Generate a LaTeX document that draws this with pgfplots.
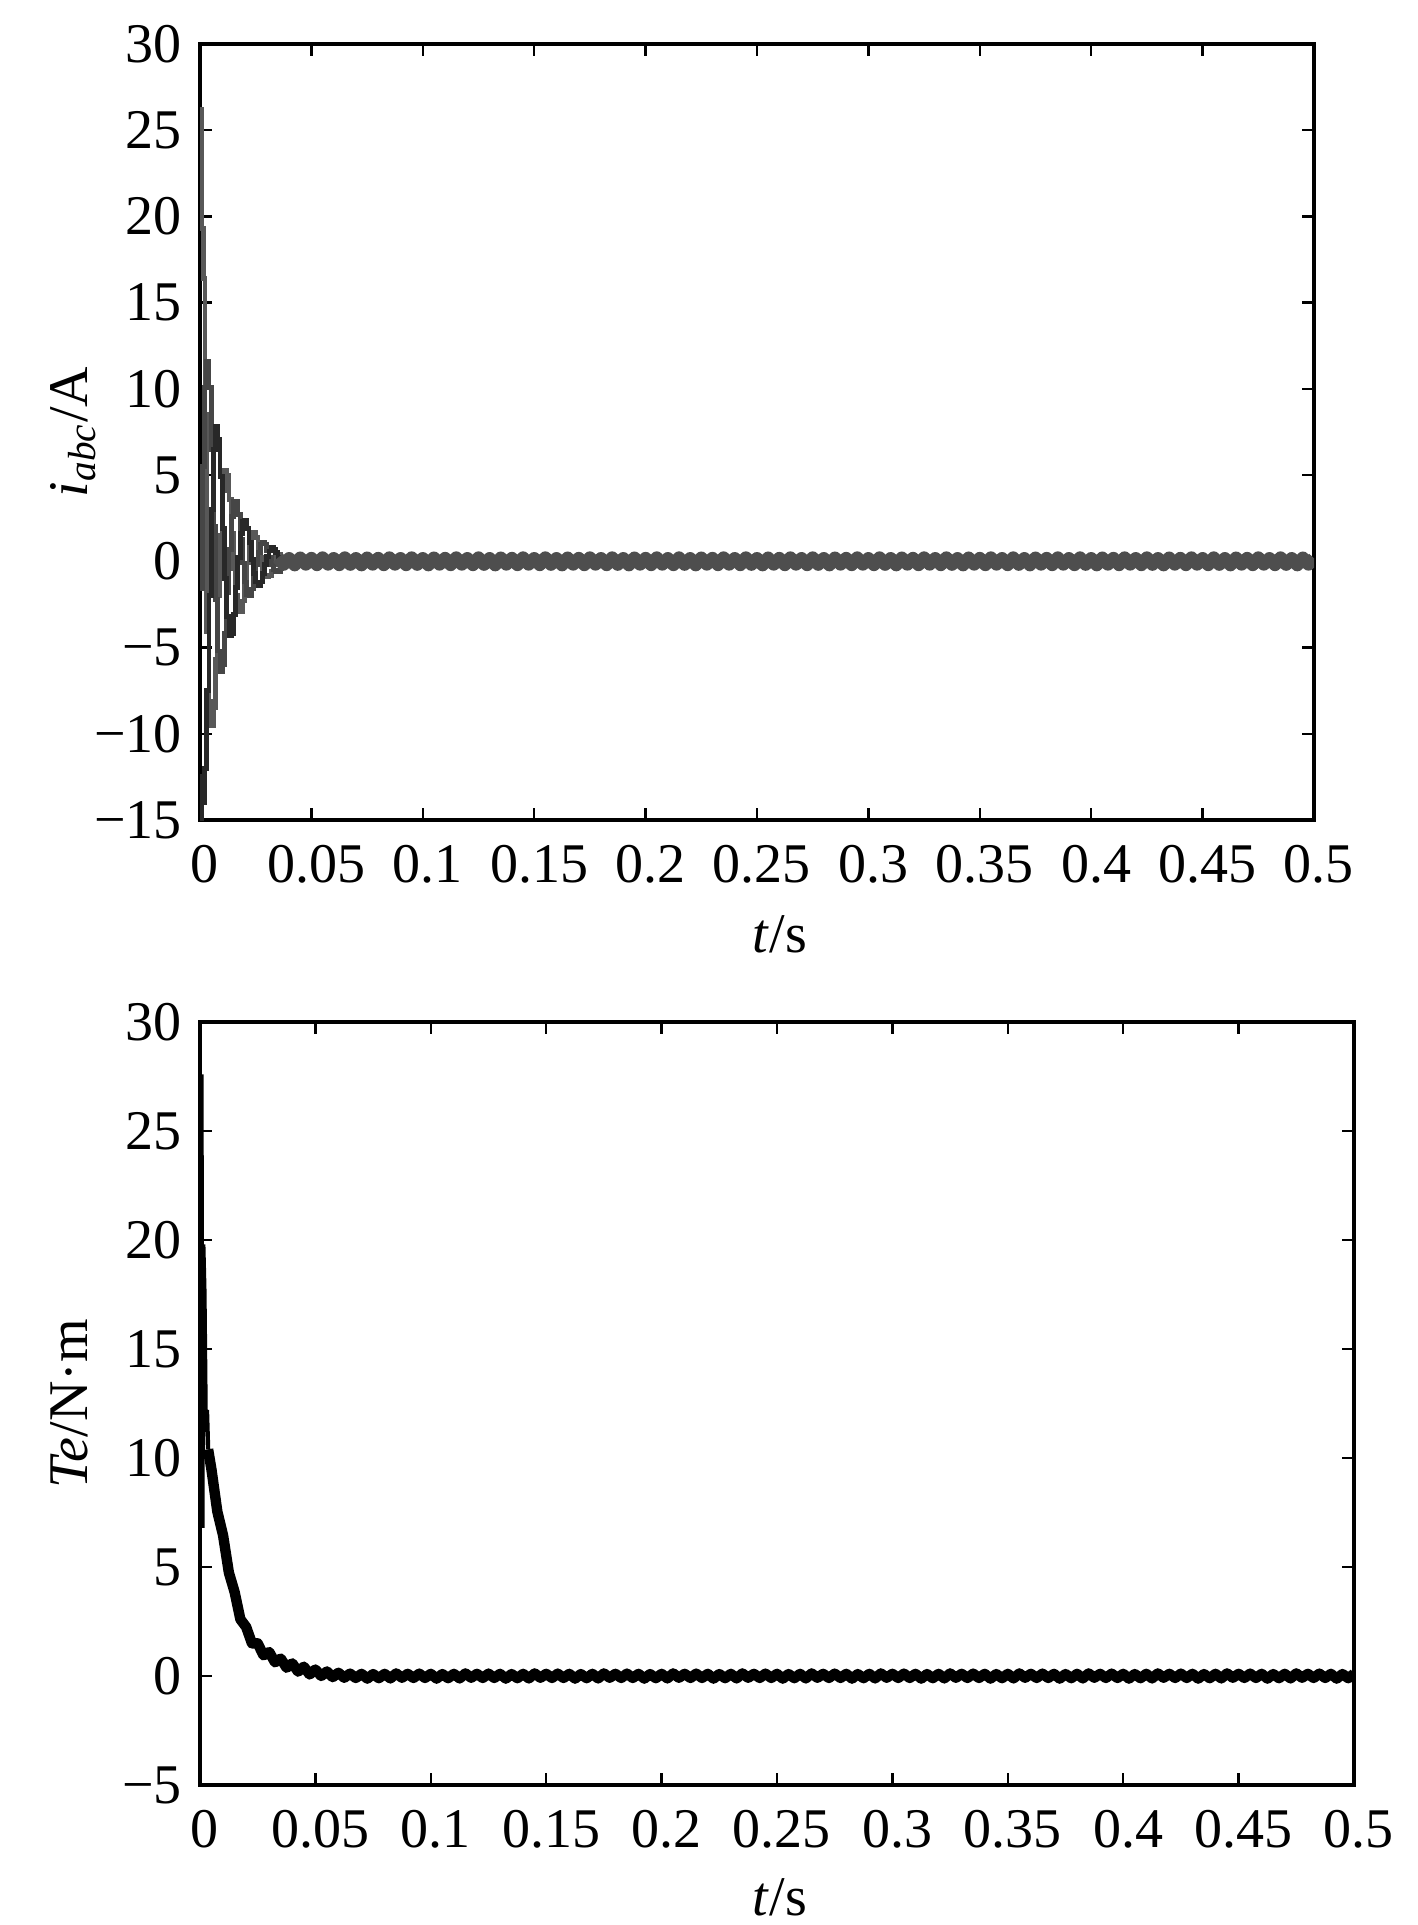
\documentclass[border=0pt]{standalone}
\usepackage{fontspec}
\setmainfont{Liberation Serif}
\usepackage{pgfplots}
\pgfplotsset{compat=1.18}
\definecolor{phA}{RGB}{40,40,40}
\definecolor{phB}{RGB}{88,88,88}
\definecolor{phC}{RGB}{70,70,70}
\definecolor{band}{RGB}{78,78,78}

\pgfplotsset{
  simfig/.style={
    scale only axis,
    anchor=south west,
    xmin=0, xmax=0.5,
    xtick={0,0.05,0.1,0.15,0.2,0.25,0.3,0.35,0.4,0.45,0.5},
    xticklabels={0,0.05,0.1,0.15,0.2,0.25,0.3,0.35,0.4,0.45,0.5},
    tick align=inside,
    major tick length=3pt,
    axis line style={line width=0.9pt},
    every tick/.style={black, line width=0.6pt},
    tick label style={font=\fontsize{14}{16}\selectfont},
    xticklabel style={xshift=1.2pt, yshift=-2.75pt},
    yticklabel style={xshift=-1pt},
    xlabel={\textit{t}/s},
    no markers,
  }
}

\begin{document}
\begin{tikzpicture}
\useasboundingbox (0pt,0pt) rectangle (354.25pt,-481.25pt);

% phase currents
\begin{axis}[
    simfig,
    at={(50pt,-205pt)},
    width=278.5pt, height=194pt,
    ymin=-15, ymax=30,
    ytick={-15,-10,-5,0,5,10,15,20,25,30},
    yticklabels={−15,−10,−5,0,5,10,15,20,25,30},
    every axis x label/.style={at={(axis description cs:0.5206,0)}, anchor=base, yshift=-33pt, font=\fontsize{14}{16}\selectfont},
    every axis y label/.style={at={(axis description cs:-0.1014,0.5)}, rotate=90, anchor=base, font=\fontsize{14}{16}\selectfont},
    ylabel={\textit{i}\textsubscript{\textit{abc}}/A},
]
\addplot[const plot, phB, line width=1.2pt] coordinates {
 (0,19.3) (0.0004,26.2) (0.0007,19.3) (0.0017,16.4) (0.0022,8.5) (0.003,-4.1)
 (0.004,-8.1) (0.005,-9.5) (0.006,-8.5) (0.007,-5.7) (0.008,-2.0) (0.009,1.5)
 (0.010,4.1) (0.011,5.3) (0.012,5.0) (0.013,3.6) (0.014,1.6) (0.015,-0.4)
 (0.016,-2.0) (0.017,-2.9) (0.018,-2.9) (0.019,-2.3) (0.020,-1.2) (0.021,-0.1)
 (0.022,0.9) (0.023,1.5) (0.024,1.7) (0.025,1.4) (0.026,0.8) (0.027,0.2)
 (0.028,-0.4) (0.029,-0.8) (0.030,-0.9) (0.031,-0.8) (0.032,-0.6) (0.033,-0.2)
 (0.034,0.2) (0.035,0.4) (0.036,0.1)
};
\addplot[const plot, phC, line width=1.2pt] coordinates {
 (0,-1.6) (0.001,5.5) (0.002,10.1) (0.003,11.6) (0.004,10.1) (0.005,6.5)
 (0.006,2.0) (0.007,-2.2) (0.008,-5.2) (0.009,-6.4) (0.010,-6.0) (0.011,-4.2)
 (0.012,-1.8) (0.013,0.7) (0.014,2.6) (0.015,3.5) (0.016,3.5) (0.017,2.7)
 (0.018,1.3) (0.019,-0.1) (0.020,-1.2) (0.021,-1.9) (0.022,-2.0) (0.023,-1.6)
 (0.024,-1.0) (0.025,-0.2) (0.026,0.5) (0.027,1.0) (0.028,1.1) (0.029,1.0)
 (0.030,0.6) (0.031,0.2) (0.032,-0.2) (0.033,-0.5) (0.034,-0.6) (0.035,-0.6)
 (0.036,-0.3)
};
\addplot[const plot, phA, line width=1.2pt] coordinates {
 (0,-15.0) (0.0005,-12.5) (0.001,-14.0) (0.002,-12.0) (0.003,-7.5) (0.004,-2.0)
 (0.005,3.0) (0.006,6.5) (0.007,7.8) (0.008,7.1) (0.009,4.9) (0.010,1.9)
 (0.011,-1.0) (0.012,-3.2) (0.013,-4.3) (0.014,-4.2) (0.015,-3.1) (0.016,-1.5)
 (0.017,0.2) (0.018,1.6) (0.019,2.3) (0.020,2.4) (0.021,1.9) (0.022,1.1)
 (0.023,0.1) (0.024,-0.7) (0.025,-1.2) (0.026,-1.4) (0.027,-1.2) (0.028,-0.7)
 (0.029,-0.2) (0.030,0.3) (0.031,0.6) (0.032,0.8) (0.033,0.7) (0.034,0.5)
 (0.035,0.2) (0.036,-0.1)
};
% steady-state ripple band
\addplot[sharp plot, band, line width=3.2pt, line join=round] coordinates {
 (0.035,0.21)(0.0375,-0.18)(0.04,0.17)(0.0425,-0.21)(0.045,0.20)(0.0475,-0.17)
 (0.05,0.18)(0.0525,-0.20)(0.055,0.21)(0.0575,-0.17)(0.06,0.17)(0.0625,-0.20)
 (0.065,0.21)(0.0675,-0.18)(0.07,0.17)(0.0725,-0.21)(0.075,0.20)(0.0775,-0.17)
 (0.08,0.18)(0.0825,-0.20)(0.085,0.21)(0.0875,-0.17)(0.09,0.17)(0.0925,-0.20)
 (0.095,0.21)(0.0975,-0.18)(0.1,0.17)(0.1025,-0.21)(0.105,0.20)(0.1075,-0.17)
 (0.11,0.18)(0.1125,-0.20)(0.115,0.21)(0.1175,-0.17)(0.12,0.17)(0.1225,-0.20)
 (0.125,0.21)(0.1275,-0.18)(0.13,0.17)(0.1325,-0.21)(0.135,0.20)(0.1375,-0.17)
 (0.14,0.18)(0.1425,-0.20)(0.145,0.21)(0.1475,-0.17)(0.15,0.17)(0.1525,-0.20)
 (0.155,0.21)(0.1575,-0.18)(0.16,0.17)(0.1625,-0.21)(0.165,0.20)(0.1675,-0.17)
 (0.17,0.18)(0.1725,-0.20)(0.175,0.21)(0.1775,-0.17)(0.18,0.17)(0.1825,-0.20)
 (0.185,0.21)(0.1875,-0.18)(0.19,0.17)(0.1925,-0.21)(0.195,0.20)(0.1975,-0.17)
 (0.2,0.18)(0.2025,-0.20)(0.205,0.21)(0.2075,-0.17)(0.21,0.17)(0.2125,-0.20)
 (0.215,0.21)(0.2175,-0.18)(0.22,0.17)(0.2225,-0.21)(0.225,0.20)(0.2275,-0.17)
 (0.23,0.18)(0.2325,-0.20)(0.235,0.21)(0.2375,-0.17)(0.24,0.17)(0.2425,-0.20)
 (0.245,0.21)(0.2475,-0.18)(0.25,0.17)(0.2525,-0.21)(0.255,0.20)(0.2575,-0.17)
 (0.26,0.18)(0.2625,-0.20)(0.265,0.21)(0.2675,-0.17)(0.27,0.17)(0.2725,-0.20)
 (0.275,0.21)(0.2775,-0.18)(0.28,0.17)(0.2825,-0.21)(0.285,0.20)(0.2875,-0.17)
 (0.29,0.18)(0.2925,-0.20)(0.295,0.21)(0.2975,-0.17)(0.3,0.17)(0.3025,-0.20)
 (0.305,0.21)(0.3075,-0.18)(0.31,0.17)(0.3125,-0.21)(0.315,0.20)(0.3175,-0.17)
 (0.32,0.18)(0.3225,-0.20)(0.325,0.21)(0.3275,-0.17)(0.33,0.17)(0.3325,-0.20)
 (0.335,0.21)(0.3375,-0.18)(0.34,0.17)(0.3425,-0.21)(0.345,0.20)(0.3475,-0.17)
 (0.35,0.18)(0.3525,-0.20)(0.355,0.21)(0.3575,-0.17)(0.36,0.17)(0.3625,-0.20)
 (0.365,0.21)(0.3675,-0.18)(0.37,0.17)(0.3725,-0.21)(0.375,0.20)(0.3775,-0.17)
 (0.38,0.18)(0.3825,-0.20)(0.385,0.21)(0.3875,-0.17)(0.39,0.17)(0.3925,-0.20)
 (0.395,0.21)(0.3975,-0.18)(0.4,0.17)(0.4025,-0.21)(0.405,0.20)(0.4075,-0.17)
 (0.41,0.18)(0.4125,-0.20)(0.415,0.21)(0.4175,-0.17)(0.42,0.17)(0.4225,-0.20)
 (0.425,0.21)(0.4275,-0.18)(0.43,0.17)(0.4325,-0.21)(0.435,0.20)(0.4375,-0.17)
 (0.44,0.18)(0.4425,-0.20)(0.445,0.21)(0.4475,-0.17)(0.45,0.17)(0.4525,-0.20)
 (0.455,0.21)(0.4575,-0.18)(0.46,0.17)(0.4625,-0.21)(0.465,0.20)(0.4675,-0.17)
 (0.47,0.18)(0.4725,-0.20)(0.475,0.21)(0.4775,-0.17)(0.48,0.17)(0.4825,-0.20)
 (0.485,0.21)(0.4875,-0.18)(0.49,0.17)(0.4925,-0.21)(0.495,0.20)(0.4975,-0.17)
 (0.5,0.18)
};
\end{axis}

% electromagnetic torque
\begin{axis}[
    simfig,
    at={(50pt,-446.25pt)},
    width=288.5pt, height=190.75pt,
    ymin=-5, ymax=30,
    ytick={-5,0,5,10,15,20,25,30},
    yticklabels={−5,0,5,10,15,20,25,30},
    every axis x label/.style={at={(axis description cs:0.5026,0)}, anchor=base, yshift=-32.5pt, font=\fontsize{14}{16}\selectfont},
    every axis y label/.style={at={(axis description cs:-0.0979,0.5)}, rotate=90, anchor=base, font=\fontsize{14}{16}\selectfont},
    ylabel={\textit{Te}/N·m},
]
% start-up spikes
\addplot[sharp plot, black, line width=1.1pt] coordinates {
 (0,19.8) (0.0006,27.6) (0.001,6.8) (0.0014,19.8) (0.0019,17.6) (0.0025,11.2)
 (0.003,12.2) (0.0035,10.4)
};
% decay and steady-state ripple
\addplot[sharp plot, black, line width=2.6pt, line join=round] coordinates {
 (0.0035,10.4)
 (0.005,9.45) (0.0075,7.55) (0.01,6.45) (0.0125,4.75) (0.015,3.85) (0.0175,2.6)
 (0.02,2.25) (0.0225,1.5) (0.025,1.5) (0.0275,0.95) (0.03,1.1) (0.0325,0.63)
 (0.035,0.8) (0.0375,0.38) (0.04,0.58) (0.0425,0.2) (0.045,0.43) (0.0475,0.07)
 (0.05,0.3) (0.0525,0.0) (0.055,0.21) (0.0575,-0.05) (0.06,0.15) (0.0625,-0.08)
 (0.065,0.11)(0.0675,-0.09)(0.07,0.10)(0.0725,-0.12)(0.075,0.09)(0.0775,-0.10)
 (0.08,0.10)(0.0825,-0.11)(0.085,0.12)(0.0875,-0.08)(0.09,0.10)(0.0925,-0.09)
 (0.095,0.11)(0.0975,-0.09)(0.1,0.10)(0.1025,-0.12)(0.105,0.09)(0.1075,-0.10)
 (0.11,0.10)(0.1125,-0.11)(0.115,0.12)(0.1175,-0.08)(0.12,0.10)(0.1225,-0.09)
 (0.125,0.11)(0.1275,-0.09)(0.13,0.10)(0.1325,-0.12)(0.135,0.09)(0.1375,-0.10)
 (0.14,0.10)(0.1425,-0.11)(0.145,0.12)(0.1475,-0.08)(0.15,0.10)(0.1525,-0.09)
 (0.155,0.11)(0.1575,-0.09)(0.16,0.10)(0.1625,-0.12)(0.165,0.09)(0.1675,-0.10)
 (0.17,0.10)(0.1725,-0.11)(0.175,0.12)(0.1775,-0.08)(0.18,0.10)(0.1825,-0.09)
 (0.185,0.11)(0.1875,-0.09)(0.19,0.10)(0.1925,-0.12)(0.195,0.09)(0.1975,-0.10)
 (0.2,0.10)(0.2025,-0.11)(0.205,0.12)(0.2075,-0.08)(0.21,0.10)(0.2125,-0.09)
 (0.215,0.11)(0.2175,-0.09)(0.22,0.10)(0.2225,-0.12)(0.225,0.09)(0.2275,-0.10)
 (0.23,0.10)(0.2325,-0.11)(0.235,0.12)(0.2375,-0.08)(0.24,0.10)(0.2425,-0.09)
 (0.245,0.11)(0.2475,-0.09)(0.25,0.10)(0.2525,-0.12)(0.255,0.09)(0.2575,-0.10)
 (0.26,0.10)(0.2625,-0.11)(0.265,0.12)(0.2675,-0.08)(0.27,0.10)(0.2725,-0.09)
 (0.275,0.11)(0.2775,-0.09)(0.28,0.10)(0.2825,-0.12)(0.285,0.09)(0.2875,-0.10)
 (0.29,0.10)(0.2925,-0.11)(0.295,0.12)(0.2975,-0.08)(0.3,0.10)(0.3025,-0.09)
 (0.305,0.11)(0.3075,-0.09)(0.31,0.10)(0.3125,-0.12)(0.315,0.09)(0.3175,-0.10)
 (0.32,0.10)(0.3225,-0.11)(0.325,0.12)(0.3275,-0.08)(0.33,0.10)(0.3325,-0.09)
 (0.335,0.11)(0.3375,-0.09)(0.34,0.10)(0.3425,-0.12)(0.345,0.09)(0.3475,-0.10)
 (0.35,0.10)(0.3525,-0.11)(0.355,0.12)(0.3575,-0.08)(0.36,0.10)(0.3625,-0.09)
 (0.365,0.11)(0.3675,-0.09)(0.37,0.10)(0.3725,-0.12)(0.375,0.09)(0.3775,-0.10)
 (0.38,0.10)(0.3825,-0.11)(0.385,0.12)(0.3875,-0.08)(0.39,0.10)(0.3925,-0.09)
 (0.395,0.11)(0.3975,-0.09)(0.4,0.10)(0.4025,-0.12)(0.405,0.09)(0.4075,-0.10)
 (0.41,0.10)(0.4125,-0.11)(0.415,0.12)(0.4175,-0.08)(0.42,0.10)(0.4225,-0.09)
 (0.425,0.11)(0.4275,-0.09)(0.43,0.10)(0.4325,-0.12)(0.435,0.09)(0.4375,-0.10)
 (0.44,0.10)(0.4425,-0.11)(0.445,0.12)(0.4475,-0.08)(0.45,0.10)(0.4525,-0.09)
 (0.455,0.11)(0.4575,-0.09)(0.46,0.10)(0.4625,-0.12)(0.465,0.09)(0.4675,-0.10)
 (0.47,0.10)(0.4725,-0.11)(0.475,0.12)(0.4775,-0.08)(0.48,0.10)(0.4825,-0.09)
 (0.485,0.11)(0.4875,-0.09)(0.49,0.10)(0.4925,-0.12)(0.495,0.09)(0.4975,-0.10)
 (0.5,0.10)
};
\end{axis}
\end{tikzpicture}
\end{document}
